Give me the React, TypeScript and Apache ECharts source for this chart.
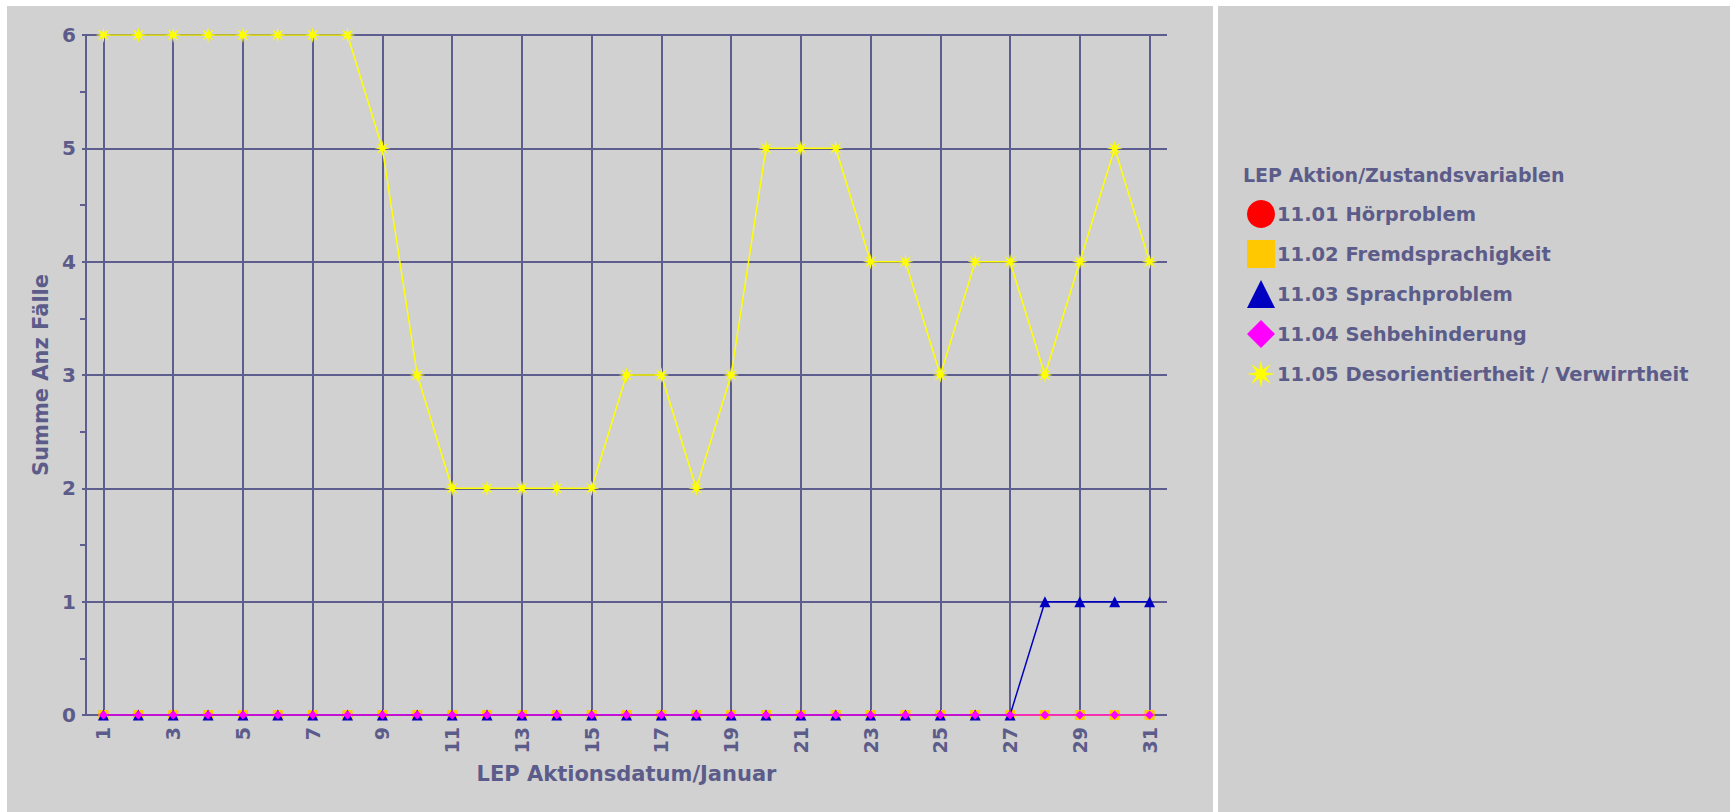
import React, { useEffect, useRef } from "react";
import * as echarts from "echarts";

const days = ["1","2","3","4","5","6","7","8","9","10","11","12","13","14","15","16","17","18","19","20","21","22","23","24","25","26","27","28","29","30","31"];

const seriesNames = [
  "11.01 Hörproblem",
  "11.02 Fremdsprachigkeit",
  "11.03 Sprachproblem",
  "11.04 Sehbehinderung",
  "11.05 Desorientiertheit / Verwirrtheit",
];

const hoerproblem = [0,0,0,0,0,0,0,0,0,0,0,0,0,0,0,0,0,0,0,0,0,0,0,0,0,0,0,0,0,0,0];
const fremdsprachigkeit = [0,0,0,0,0,0,0,0,0,0,0,0,0,0,0,0,0,0,0,0,0,0,0,0,0,0,0,0,0,0,0];
const sprachproblem = [0,0,0,0,0,0,0,0,0,0,0,0,0,0,0,0,0,0,0,0,0,0,0,0,0,0,0,1,1,1,1];
const sehbehinderung = [0,0,0,0,0,0,0,0,0,0,0,0,0,0,0,0,0,0,0,0,0,0,0,0,0,0,0,0,0,0,0];
const desorientiertheit = [6,6,6,6,6,6,6,6,5,3,2,2,2,2,2,3,3,2,3,5,5,5,4,4,3,4,4,3,4,5,4];

const yTicks = { min: 0, max: 6, interval: 1 };

const TEXT = "#5c5c8a";
const GRID = "#5d5d8f";
const FONT = "'DejaVu Sans', 'Liberation Sans', Arial, sans-serif";

function starPath(): string {
  const pts: string[] = [];
  const n = 8;
  for (let i = 0; i < n * 2; i++) {
    const r = i % 2 === 0 ? 10 : 3.4;
    const a = (Math.PI * i) / n - Math.PI / 2;
    const x = (10 + r * Math.cos(a)).toFixed(2);
    const y = (10 + r * Math.sin(a)).toFixed(2);
    pts.push((i === 0 ? "M" : "L") + x + " " + y);
  }
  return "path://" + pts.join(" ") + " Z";
}

export default function App() {
  const ref = useRef<HTMLDivElement>(null);

  useEffect(() => {
    if (!ref.current) return;
    const chart = echarts.init(ref.current, null, { renderer: "svg" });
    const star = starPath();
    const labelStyle = { color: TEXT, fontSize: 19, fontWeight: "bold", fontFamily: FONT };
    const nameStyle = { color: TEXT, fontSize: 21, fontWeight: "bold", fontFamily: FONT };
    const valuesList = [hoerproblem, fremdsprachigkeit, sprachproblem, sehbehinderung, desorientiertheit];
    const symbols = ["circle", "rect", "triangle", "diamond", star];
    const colors = ["#ff0000", "#ffc800", "#0000c0", "#ff00ff", "#ffff00"];
    const sizes = [10, 10, 11, 9, 16];
    const legendIcons = ["circle", "rect", "triangle", "diamond", star];

    chart.setOption({
      animation: false,
      backgroundColor: "#ffffff",
      textStyle: { fontFamily: FONT },
      graphic: [
        { type: "rect", z: -10, silent: true, shape: { x: 7, y: 6, width: 1206, height: 806 }, style: { fill: "#d1d1d1" } },
        { type: "rect", z: -10, silent: true, shape: { x: 1218, y: 6, width: 512, height: 806 }, style: { fill: "#cfcfcf" } },
        {
          type: "text",
          x: 1243,
          y: 175,
          style: {
            text: "LEP Aktion/Zustandsvariablen",
            fill: TEXT,
            fontSize: 19,
            fontWeight: "bold",
            fontFamily: FONT,
            verticalAlign: "middle",
          },
        },
      ],
      grid: { left: 86, top: 35, width: 1081, height: 680, containLabel: false },
      legend: {
        orient: "vertical",
        left: 1242,
        top: 195,
        itemWidth: 28,
        itemHeight: 28,
        itemGap: 12,
        selectedMode: false,
        textStyle: { color: TEXT, fontSize: 19.5, fontWeight: "bold", fontFamily: FONT, padding: [0, 0, 0, -3] },
        data: seriesNames.map((n, i) => ({ name: n, icon: legendIcons[i] })),
      },
      xAxis: {
        type: "category",
        data: days,
        boundaryGap: true,
        axisLine: { show: false },
        axisTick: { show: false },
        axisLabel: { ...labelStyle, interval: 1, rotate: 90, margin: 12 },
        splitLine: { show: true, interval: 1, alignWithLabel: true, lineStyle: { color: GRID, width: 2 } },
        name: "LEP Aktionsdatum/Januar",
        nameLocation: "middle",
        nameGap: 48,
        nameTextStyle: nameStyle,
      },
      yAxis: {
        type: "value",
        min: yTicks.min,
        max: yTicks.max,
        interval: yTicks.interval,
        axisLine: { show: true, lineStyle: { color: GRID, width: 2 } },
        axisTick: { show: true, length: 4, lineStyle: { color: GRID, width: 2 } },
        minorTick: { show: true, splitNumber: 2, length: 6, lineStyle: { color: GRID, width: 2 } },
        axisLabel: { ...labelStyle, fontSize: 20, margin: 10 },
        splitLine: { show: true, lineStyle: { color: GRID, width: 2 } },
        name: "Summe Anz Fälle",
        nameLocation: "middle",
        nameGap: 34,
        nameTextStyle: nameStyle,
      },
      series: seriesNames.map((name, i) => ({
        name,
        type: "line",
        data: valuesList[i],
        symbol: symbols[i],
        symbolSize: sizes[i],
        showAllSymbol: true,
        color: colors[i],
        itemStyle: { color: colors[i] },
        lineStyle: { color: colors[i], width: 1.5 },
        z: 3 + i,
      })),
    });
    return () => chart.dispose();
  }, []);

  return (
    <div
      ref={ref}
      style={{ position: "fixed", left: 0, top: 0, width: 1730, height: 812 }}
    />
  );
}
